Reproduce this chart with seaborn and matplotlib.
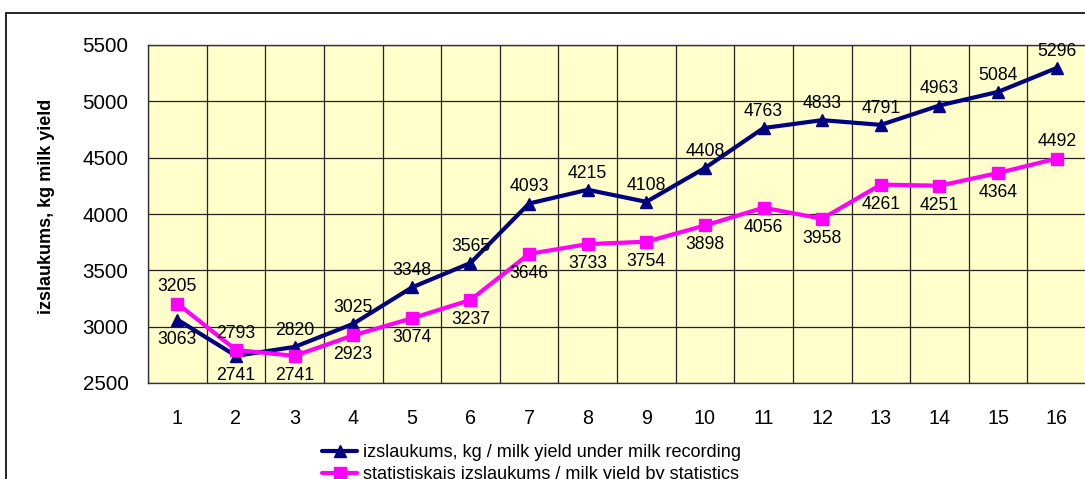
import matplotlib
matplotlib.use("Agg")
import matplotlib.pyplot as plt
import seaborn as sns
import pandas as pd
from matplotlib.patches import Rectangle

# Years of the series (category labels on the x axis)
categories = [str(i) for i in range(1, 17)]

# Average milk yield per cow, kg
recording_yield = [3063, 2741, 2820, 3025, 3348, 3565, 4093, 4215,
                   4108, 4408, 4763, 4833, 4791, 4963, 5084, 5296]
statistics_yield = [3205, 2793, 2741, 2923, 3074, 3237, 3646, 3733,
                    3754, 3898, 4056, 3958, 4261, 4251, 4364, 4492]

recording_label = "izslaukums, kg / milk yield under milk recording"
statistics_label = "statistiskais izslaukums / milk yield by statistics"
y_title = "izslaukums, kg milk yield"
y_ticks = [2500, 3000, 3500, 4000, 4500, 5000, 5500]

# Which side of the point each value label sits on (+1 above, -1 below)
recording_label_side = [-1, -1, 1, 1, 1, 1, 1, 1, 1, 1, 1, 1, 1, 1, 1, 1]
statistics_label_side = [1, 1, -1, -1, -1, -1, -1, -1, -1, -1, -1, -1, -1, -1, -1, 1]

NAVY = "#000080"
MAGENTA = "#FF00FF"
PLOT_BG = "#FFFFCC"

sns.set_style("white")
plt.rcParams["font.family"] = ["Liberation Sans", "DejaVu Sans"]
plt.rcParams["text.color"] = "black"
plt.rcParams["xtick.labelcolor"] = "black"
plt.rcParams["ytick.labelcolor"] = "black"

W, H = 1085, 479
fig = plt.figure(figsize=(W / 100, H / 100), dpi=100)
fig.patch.set_facecolor("white")

# Outer chart frame
fig.patches.append(Rectangle((6 / W, -0.05), 1.2, 1 - 13 / H + 0.05,
                             transform=fig.transFigure, fill=False,
                             edgecolor="black", linewidth=1.2, zorder=0))

left, right, top, bottom = 148, 1086, 45, 383
ax = fig.add_axes([left / W, 1 - bottom / H, (right - left) / W, (bottom - top) / H])
ax.set_facecolor(PLOT_BG)

pos = list(range(1, len(categories) + 1))
df = pd.DataFrame({"pos": pos, "recording": recording_yield,
                   "statistics": statistics_yield})

sns.lineplot(data=df, x="pos", y="recording", ax=ax, color=NAVY,
             linewidth=3, marker="^", markersize=8.5, markeredgecolor=NAVY,
             markeredgewidth=1, label=recording_label, zorder=3)
sns.lineplot(data=df, x="pos", y="statistics", ax=ax, color=MAGENTA,
             linewidth=3, marker="s", markersize=9, markeredgecolor=MAGENTA,
             markeredgewidth=1, label=statistics_label, zorder=4)

# Value labels
for p, v, s in zip(pos, recording_yield, recording_label_side):
    ax.annotate(f"{v}", (p, v), xytext=(0, 12 if s > 0 else -14),
                textcoords="offset points", ha="center", va="center",
                fontsize=12.7, color="black", zorder=5)
for p, v, s in zip(pos, statistics_yield, statistics_label_side):
    ax.annotate(f"{v}", (p, v), xytext=(0, 12 if s > 0 else -14),
                textcoords="offset points", ha="center", va="center",
                fontsize=12.7, color="black", zorder=5)

# Axes, grid and ticks
ax.set_xlim(0.5, len(categories) + 0.5)
ax.set_ylim(y_ticks[0], y_ticks[-1])
ax.set_yticks(y_ticks)
ax.set_yticklabels([str(t) for t in y_ticks])
ax.set_xticks(pos)
ax.set_xticklabels(categories)
ax.set_xticks([p + 0.5 for p in range(0, len(categories) + 1)], minor=True)
ax.set_xlabel("")
ax.set_ylabel("")

ax.grid(False)
ax.yaxis.grid(True, which="major", color="#222222", linewidth=0.9)
ax.xaxis.grid(True, which="minor", color="#222222", linewidth=0.9)
ax.set_axisbelow(True)

ax.tick_params(axis="y", which="major", direction="out", length=5, width=1,
               color="#333333", pad=9, labelsize=14.8, labelcolor="black")
ax.tick_params(axis="x", which="major", length=0, pad=19, labelsize=14.2,
               labelcolor="black")
ax.tick_params(axis="x", which="minor", direction="out", length=5, width=1,
               color="#333333")

for side in ["left", "right", "top", "bottom"]:
    ax.spines[side].set_color("#333333")
    ax.spines[side].set_linewidth(1)

fig.text(47 / W, 1 - 206 / H, y_title, rotation=90, ha="center", va="center",
         fontsize=13, fontweight="bold", color="black")

handles, labels = ax.get_legend_handles_labels()
if ax.get_legend() is not None:
    ax.get_legend().remove()
leg = fig.legend(handles, labels, loc="upper left",
                 bbox_to_anchor=(322 / W, 1 - 444 / H), frameon=False,
                 fontsize=13.1, handlelength=1.95, handletextpad=0.3,
                 labelspacing=0.27, borderpad=0, borderaxespad=0)
for t in leg.get_texts():
    t.set_color("black")

fig.savefig("out.png", dpi=100)
